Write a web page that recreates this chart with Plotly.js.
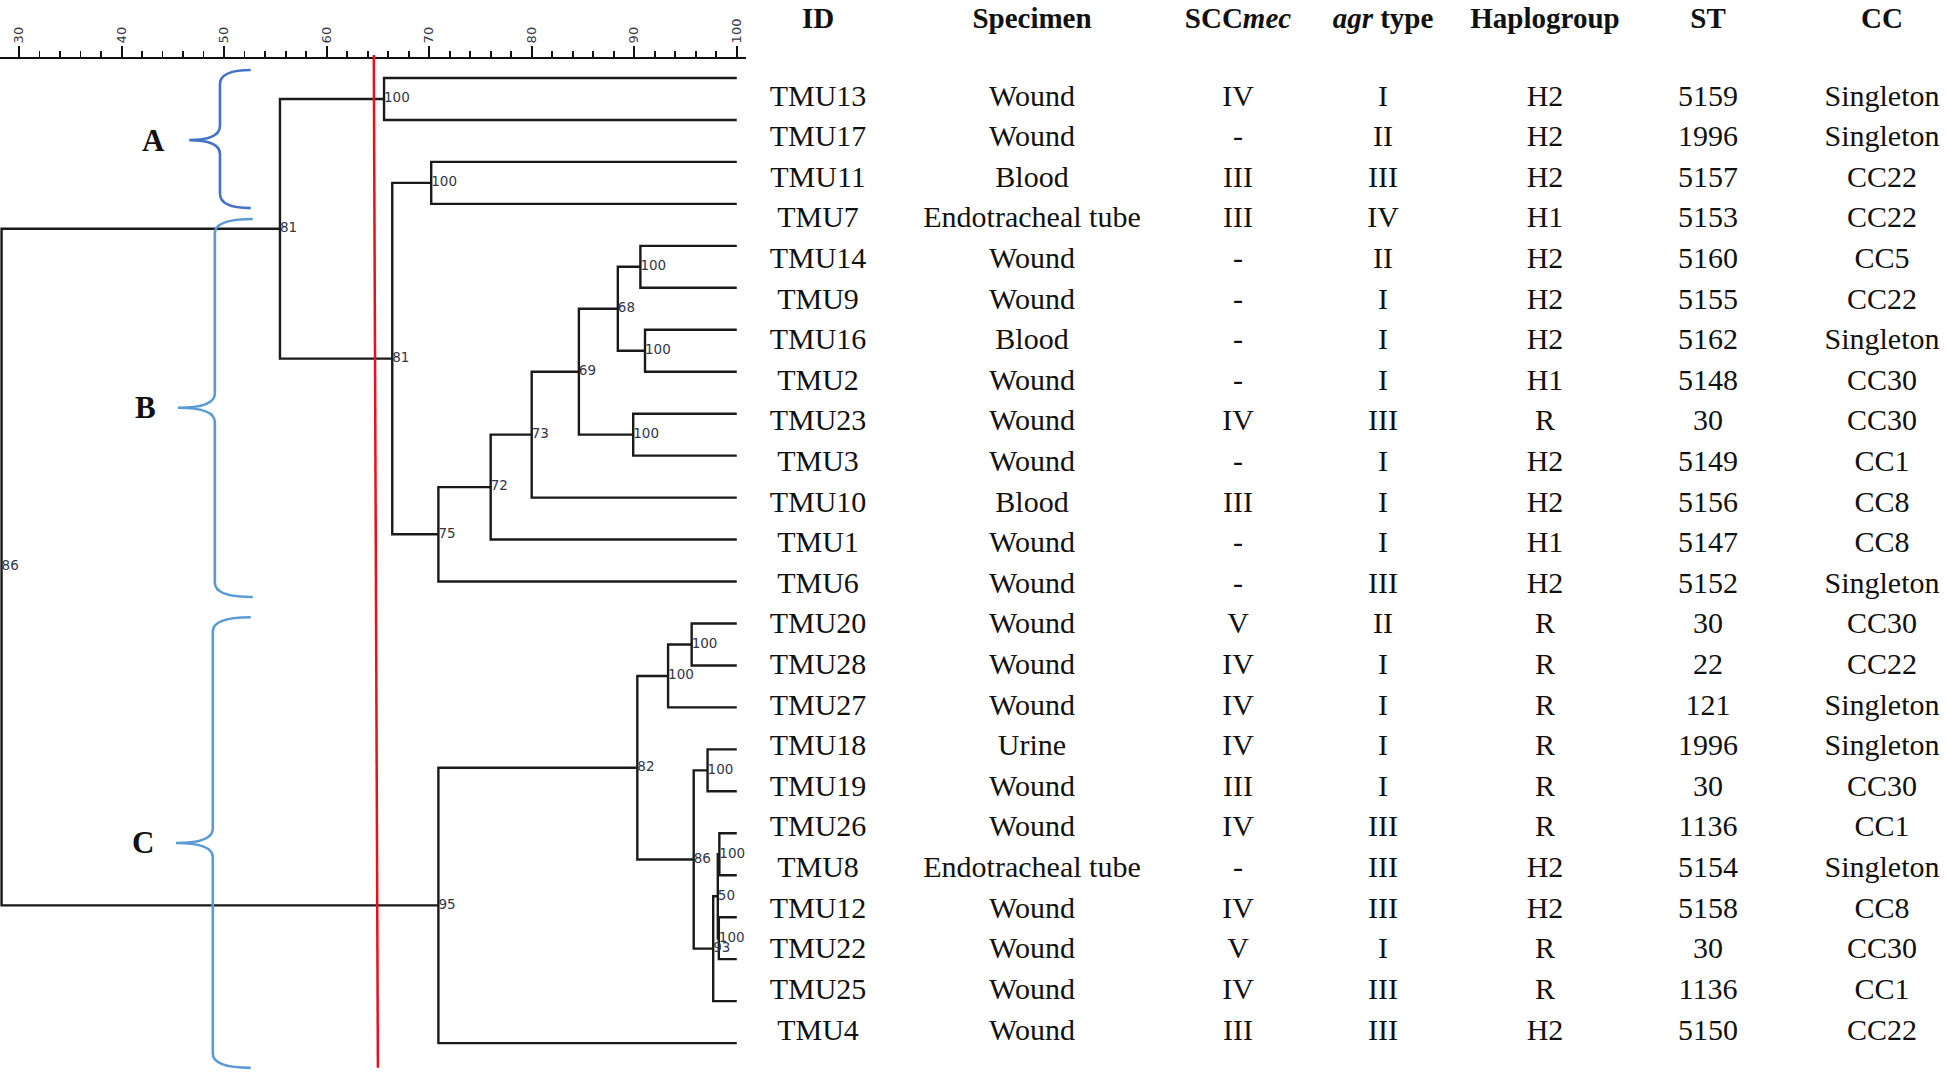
<!DOCTYPE html>
<html>
<head>
<meta charset="utf-8">
<script src="https://cdn.plot.ly/plotly-3.0.1.min.js"></script>
<style>html,body{margin:0;padding:0;background:#fff;}#chart{width:1946px;height:1073px;}</style>
</head>
<body>
<div id="chart"></div>
<script>
// ---------- data ----------
const isolateIds = ["TMU13","TMU17","TMU11","TMU7","TMU14","TMU9","TMU16","TMU2","TMU23","TMU3","TMU10","TMU1","TMU6","TMU20","TMU28","TMU27","TMU18","TMU19","TMU26","TMU8","TMU12","TMU22","TMU25","TMU4"];
const specimen = ["Wound","Wound","Blood","Endotracheal tube","Wound","Wound","Blood","Wound","Wound","Wound","Blood","Wound","Wound","Wound","Wound","Wound","Urine","Wound","Wound","Endotracheal tube","Wound","Wound","Wound","Wound"];
const sccmec = ["IV","-","III","III","-","-","-","-","IV","-","III","-","-","V","IV","IV","IV","III","IV","-","IV","V","IV","III"];
const agrType = ["I","II","III","IV","II","I","I","I","III","I","I","I","III","II","I","I","I","I","III","III","III","I","III","III"];
const haplogroup = ["H2","H2","H2","H1","H2","H2","H2","H1","R","H2","H2","H1","H2","R","R","R","R","R","R","H2","H2","R","R","H2"];
const stType = ["5159","1996","5157","5153","5160","5155","5162","5148","30","5149","5156","5147","5152","30","22","121","1996","30","1136","5154","5158","30","1136","5150"];
const clonalComplex = ["Singleton","Singleton","CC22","CC22","CC5","CC22","Singleton","CC30","CC30","CC1","CC8","CC8","Singleton","CC30","CC22","Singleton","Singleton","CC30","CC1","Singleton","CC8","CC30","CC1","CC22"];
const headers = ["<b>ID</b>","<b>Specimen</b>","<b>SCC<i>mec</i></b>","<b><i>agr</i> type</b>","<b>Haplogroup</b>","<b>ST</b>","<b>CC</b>"];

// dendrogram merges: leaves 0..23, internal node k gets id 24+k
const mergeLeft    = [0,2,4,6,26,8,28,30,31,32,25,24,13,36,16,18,20,39,41,38,37,44,35];
const mergeRight   = [1,3,5,7,27,9,29,10,11,12,33,34,14,15,17,19,21,40,22,42,43,23,45];
const mergeSim     = [65.6,70.2,90.6,91.05,88.4,89.9,84.6,80.0,76.0,70.9,66.4,55.45,95.6,93.3,97.15,98.3,98.25,98.15,97.7,95.8,90.3,70.9,28.3];
const mergeSupport = ["100","100","100","100","68","100","69","73","72","75","81","81","100","100","100","100","100","50","93","86","82","95","86"];
const cutoff = [64.6, 65.0];   // red cut-off line (top, bottom)
const clusterLabels = ["A","B","C"];

// ---------- layout constants (positions / styles) ----------
const W = 1946, H = 1073;
const leafEnd = 100;
const nLeaf = isolateIds.length;
const braceSpans = [ // [yTop, yMid, yBot] in leaf units, [xTip, xSpine, xPoint]
  {y:[-0.19,1.48,3.10], x:[52.6,49.6,46.6], color:"#4472C4", lx:43.1},
  {y:[3.36,7.86,12.37], x:[52.8,49.1,45.5], color:"#5B9BD5", lx:42.3},
  {y:[12.85,18.23,23.59], x:[52.6,48.9,45.3], color:"#5B9BD5", lx:42.1}
];
const colX = [818,1032,1238,1383,1545,1708,1882];

// ---------- compute dendrogram geometry ----------
const posX = {}, posY = {};
for (let i = 0; i < nLeaf; i++) { posX[i] = leafEnd; posY[i] = i; }
const lx = [], ly = [];
const nodeX = [], nodeY = [];
for (let k = 0; k < mergeLeft.length; k++) {
  const id = nLeaf + k, a = mergeLeft[k], b = mergeRight[k], s = mergeSim[k];
  const ya = posY[a], yb = posY[b];
  posX[id] = s; posY[id] = (ya + yb) / 2;
  lx.push(posX[a], s, s, posX[b], null);
  ly.push(ya, ya, yb, yb, null);
  nodeX.push(s); nodeY.push(posY[id]);
}

const traces = [];
traces.push({type:"scatter", mode:"lines", x:lx, y:ly, xaxis:"x", yaxis:"y",
  line:{color:"#1a1a1a", width:2.4}, hoverinfo:"skip", showlegend:false});
traces.push({type:"scatter", mode:"text", x:nodeX, y:nodeY, text:mergeSupport, xaxis:"x", yaxis:"y",
  textposition:"middle right", textfont:{family:"DejaVu Sans", size:13.5, color:"#353545"},
  cliponaxis:true, hoverinfo:"skip", showlegend:false});

// table
const columns = [isolateIds, specimen, sccmec, agrType, haplogroup, stType, clonalComplex];
const rowIdx = isolateIds.map((_, i) => i);
columns.forEach((col, c) => {
  traces.push({type:"scatter", mode:"text", x:col.map(() => colX[c]), y:rowIdx, text:col,
    xaxis:"x2", yaxis:"y2", textposition:"middle center", cliponaxis:false,
    textfont:{family:"Liberation Serif", size:30, color:"#111"}, hoverinfo:"skip", showlegend:false});
});
traces.push({type:"scatter", mode:"text", x:colX, y:headers.map(() => -1.9), text:headers,
  xaxis:"x2", yaxis:"y2", textposition:"middle center", cliponaxis:false,
  textfont:{family:"Liberation Serif", size:29, color:"#111"}, hoverinfo:"skip", showlegend:false});

// ---------- shapes ----------
const shapes = [];
const r = 0.34;
braceSpans.forEach(b => {
  const [t, m, bt] = b.y, [xt, xs, xp] = b.x;
  const path = `M ${xt},${t} Q ${xs},${t} ${xs},${t+r} L ${xs},${m-r} Q ${xs},${m} ${xp},${m} Q ${xs},${m} ${xs},${m+r} L ${xs},${bt-r} Q ${xs},${bt} ${xt},${bt}`;
  shapes.push({type:"path", xref:"x", yref:"y", path:path, line:{color:b.color, width:2.6}, layer:"above"});
});
shapes.push({type:"line", xref:"x", yref:"y", x0:cutoff[0], x1:cutoff[1], y0:-0.55, y1:23.59,
  line:{color:"#e8101a", width:2.5}, layer:"above"});

const annotations = braceSpans.map((b, i) => ({
  xref:"x", yref:"y", x:b.lx, y:b.y[1], text:"<b>" + clusterLabels[i] + "</b>", showarrow:false,
  font:{family:"Liberation Serif", size:31, color:"#111"}, xanchor:"center", yanchor:"middle"
}));

// ---------- axes ----------
const pxPerUnit = 10.254;
const xLeft = 30 - 19 / pxPerUnit;
const dendroW = 746;
const xRight = xLeft + dendroW / pxPerUnit;
const leafPx0 = 78, leafStep = 41.96;
const rowPx0 = 98, rowStep = 40.61;

const layout = {
  width:W, height:H, margin:{l:0, r:0, t:0, b:0, pad:0},
  paper_bgcolor:"#fff", plot_bgcolor:"rgba(0,0,0,0)",
  showlegend:false, hovermode:false,
  xaxis:{domain:[0, dendroW / W], range:[xLeft, xRight], side:"top", anchor:"free", position:1 - 58 / H,
    showline:true, linecolor:"#111", linewidth:2, ticks:"outside", ticklen:11, tickwidth:2, tickcolor:"#111",
    tick0:30, dtick:10, tickangle:-90, tickfont:{family:"DejaVu Sans", size:13, color:"#3a3a48"},
    minor:{dtick:2, ticks:"outside", ticklen:6, tickwidth:1.8, tickcolor:"#111", showgrid:false},
    showgrid:false, zeroline:false, fixedrange:true},
  yaxis:{domain:[0,1], range:[(H - leafPx0) / leafStep, -leafPx0 / leafStep], visible:false, fixedrange:true},
  xaxis2:{domain:[0,1], range:[0, W], anchor:"y2", visible:false, fixedrange:true},
  yaxis2:{domain:[0,1], range:[(H - rowPx0) / rowStep, -rowPx0 / rowStep], anchor:"x2", visible:false, fixedrange:true},
  shapes:shapes, annotations:annotations
};

Plotly.newPlot("chart", traces, layout, {staticPlot:true, displayModeBar:false});
</script>
</body>
</html>
